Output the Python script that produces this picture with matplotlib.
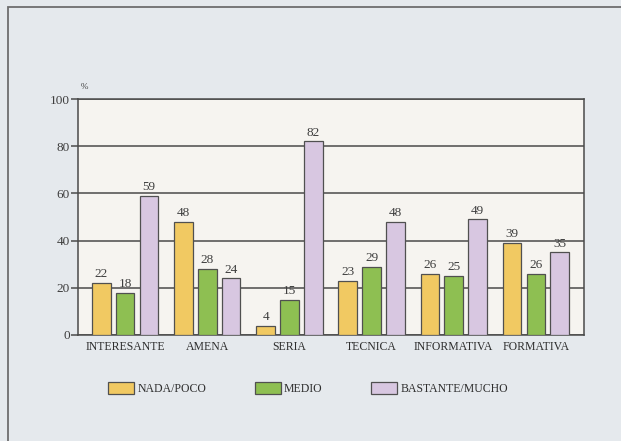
import numpy as np
import matplotlib
matplotlib.use("Agg")
import matplotlib.pyplot as plt
from matplotlib.patches import Rectangle

# data
categories = ["INTERESANTE", "AMENA", "SERIA", "TECNICA", "INFORMATIVA", "FORMATIVA"]
series_names = ["NADA/POCO", "MEDIO", "BASTANTE/MUCHO"]
nada_poco = [22, 48, 4, 23, 26, 39]
medio = [18, 28, 15, 29, 25, 26]
bastante_mucho = [59, 24, 82, 48, 49, 35]
y_ticks = [0, 20, 40, 60, 80, 100]

colors = ["#f1c962", "#8ebf52", "#d8c7e1"]
edge = "#505050"
text_col = "#3e3e3e"

plt.rcParams["font.family"] = ["Liberation Serif", "DejaVu Serif"]

fig = plt.figure(figsize=(6.21, 4.41), dpi=100)
fig.patch.set_facecolor("#e5e9ed")

# outer page frame
fig.patches.append(Rectangle((0.013, -0.05), 1.2, 1.034, transform=fig.transFigure,
                             fill=False, edgecolor="#6e6e6e", linewidth=1.3))

ax = fig.add_axes([0.1256, 0.2404, 0.8148, 0.5351])
ax.set_facecolor("#f6f4f0")

x = np.arange(len(categories))
width = 0.226
step = 0.29
for i, (vals, col, name) in enumerate(zip([nada_poco, medio, bastante_mucho], colors, series_names)):
    bars = ax.bar(x + (i - 1) * step, vals, width, color=col, edgecolor=edge,
                  linewidth=0.9, label=name, zorder=3)
    ax.bar_label(bars, padding=2, fontsize=9.5, color=text_col)

ax.set_xlim(-0.575, len(categories) - 1 + 0.587)
ax.set_ylim(0, 100)
ax.set_yticks(y_ticks)
ax.set_yticklabels([str(t) for t in y_ticks], fontsize=9.5, color=text_col)
ax.set_xticks(x)
ax.set_xticklabels(categories, fontsize=8.5, color="#2e2e2e")
ax.tick_params(axis="x", length=0, pad=4)
ax.tick_params(axis="y", length=5, width=1.1, color="#4a4a4a", pad=1)

ax.yaxis.grid(True, color="#4a4a4a", linewidth=1.1, zorder=1)
ax.set_axisbelow(True)
for s in ax.spines.values():
    s.set_color("#4a4a4a")
    s.set_linewidth(1.1)

ax.text(0.006, 1.035, "%", transform=ax.transAxes, fontsize=6.5, color=text_col,
        ha="left", va="bottom")

handles, labels = ax.get_legend_handles_labels()
leg = fig.legend(handles, labels, loc="center", bbox_to_anchor=(0.496, 0.12), ncol=3,
                 frameon=False, fontsize=8.5, handlelength=2.2, handleheight=1.2,
                 handletextpad=0.3, columnspacing=4.1)
for t in leg.get_texts():
    t.set_color("#2e2e2e")

fig.savefig("out.png", dpi=100, facecolor=fig.get_facecolor())
